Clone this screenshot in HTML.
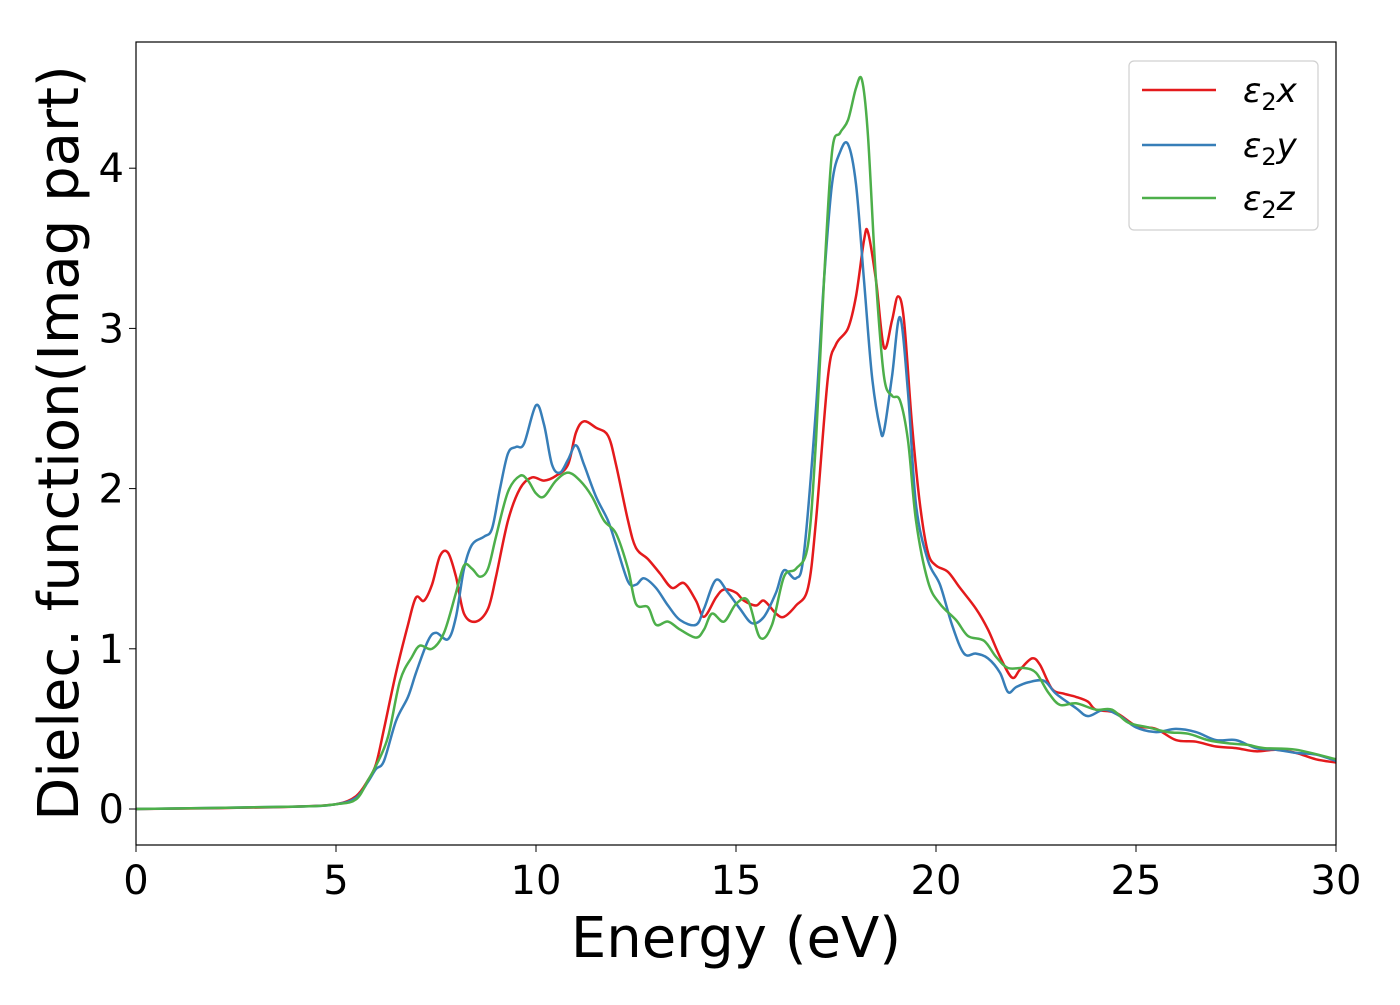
<!DOCTYPE html>
<html><head><meta charset="utf-8"><style>
body{margin:0;background:#fff;}
svg text{font-family:"DejaVu Sans","Liberation Sans",sans-serif;fill:#000;}
</style></head><body>
<svg id="chart" width="1400" height="1000" xmlns="http://www.w3.org/2000/svg">
<rect x="0" y="0" width="1400" height="1000" fill="#fff"/>
<g id="marks"></g>
<g id="axes"></g>
<rect x="136" y="42" width="1200" height="803" fill="none" stroke="#000" stroke-width="1.2"/>
<text x="736" y="957" font-size="56" text-anchor="middle">Energy (eV)</text>
<text transform="translate(78,443) rotate(-90)" font-size="56" text-anchor="middle">Dielec. function(Imag part)</text>
<g>
<rect x="1129" y="61" width="189" height="169" rx="5" fill="#fff" stroke="#ccc" stroke-width="1.2" opacity="0.9"/>
<line x1="1142" y1="90" x2="1216" y2="90" stroke="#e41a1c" stroke-width="2.5"/>
<text x="1243" y="102" font-size="34" font-style="italic">ε<tspan font-size="24" dy="8" font-style="normal">2</tspan><tspan dy="-8">x</tspan></text>
<line x1="1142" y1="145" x2="1216" y2="145" stroke="#377eb8" stroke-width="2.5"/>
<text x="1243" y="157" font-size="34" font-style="italic">ε<tspan font-size="24" dy="8" font-style="normal">2</tspan><tspan dy="-8">y</tspan></text>
<line x1="1142" y1="198" x2="1216" y2="198" stroke="#4daf4a" stroke-width="2.5"/>
<text x="1243" y="210" font-size="34" font-style="italic">ε<tspan font-size="24" dy="8" font-style="normal">2</tspan><tspan dy="-8">z</tspan></text>
</g>
</svg>
<script>
const xTicks=[0,5,10,15,20,25,30];
const yTicks=[0,1,2,3,4];
const exX=[0,2,4,5,5.5,5.8,6,6.2,6.5,6.8,7,7.2,7.4,7.6,7.8,8,8.2,8.5,8.8,9,9.3,9.6,9.9,10.2,10.5,10.8,11,11.2,11.5,11.8,12,12.3,12.5,12.8,13.1,13.4,13.7,14,14.2,14.5,14.7,15,15.2,15.5,15.7,16,16.2,16.5,16.8,17,17.3,17.5,17.8,18,18.2,18.3,18.5,18.7,18.9,19.05,19.2,19.4,19.6,19.8,20,20.3,20.6,21,21.3,21.6,21.9,22.1,22.4,22.6,22.9,23.2,23.5,23.8,24,24.5,25,25.5,26,26.5,27,27.5,28,28.5,29,29.5,30];
const exV=[0,0.005,0.015,0.03,0.08,0.18,0.28,0.5,0.85,1.15,1.32,1.3,1.4,1.58,1.6,1.45,1.22,1.17,1.25,1.45,1.8,2.0,2.07,2.05,2.08,2.15,2.35,2.42,2.38,2.33,2.15,1.8,1.63,1.56,1.47,1.38,1.41,1.3,1.2,1.32,1.37,1.35,1.3,1.27,1.3,1.22,1.2,1.27,1.38,1.8,2.7,2.9,3.0,3.2,3.55,3.6,3.3,2.88,3.05,3.2,3.05,2.4,1.9,1.6,1.52,1.48,1.38,1.25,1.12,0.95,0.82,0.87,0.94,0.9,0.75,0.72,0.7,0.67,0.62,0.6,0.52,0.5,0.43,0.42,0.39,0.38,0.36,0.37,0.35,0.31,0.29];
const eyX=[0,4,5,5.5,5.8,6,6.2,6.5,6.8,7,7.3,7.5,7.8,8,8.2,8.4,8.7,8.9,9.1,9.3,9.5,9.7,10,10.2,10.4,10.6,10.8,11,11.2,11.5,11.8,12,12.3,12.5,12.7,13,13.3,13.6,14,14.2,14.5,14.8,15.1,15.4,15.7,16,16.2,16.5,16.7,17,17.2,17.4,17.6,17.8,18,18.2,18.4,18.6,18.7,18.9,19.1,19.3,19.5,19.8,20.1,20.4,20.7,21,21.3,21.6,21.8,22,22.3,22.7,23,23.5,23.8,24.2,24.6,25,25.5,26,26.5,27,27.5,28,28.5,29,29.5,30];
const eyV=[0,0.015,0.03,0.07,0.17,0.25,0.3,0.55,0.7,0.85,1.05,1.1,1.06,1.2,1.5,1.65,1.7,1.75,2.0,2.22,2.26,2.28,2.52,2.4,2.15,2.1,2.18,2.27,2.15,1.95,1.8,1.65,1.42,1.4,1.44,1.38,1.27,1.18,1.15,1.25,1.43,1.35,1.25,1.16,1.2,1.35,1.49,1.44,1.6,2.5,3.3,3.9,4.1,4.15,3.9,3.3,2.7,2.38,2.36,2.7,3.07,2.6,1.9,1.55,1.4,1.15,0.97,0.97,0.94,0.85,0.73,0.76,0.79,0.8,0.72,0.63,0.58,0.62,0.58,0.51,0.48,0.5,0.48,0.43,0.43,0.38,0.37,0.35,0.34,0.3];
const ezX=[0,4,5,5.5,5.8,6,6.3,6.6,6.9,7.1,7.4,7.7,8,8.2,8.4,8.6,8.8,9,9.3,9.6,9.8,10,10.2,10.5,10.8,11.1,11.4,11.7,12,12.3,12.5,12.8,13,13.3,13.6,14,14.2,14.4,14.7,15,15.3,15.6,15.9,16.2,16.5,16.8,17,17.2,17.4,17.6,17.8,18,18.15,18.3,18.5,18.7,18.9,19.1,19.3,19.5,19.8,20.1,20.5,20.8,21.2,21.5,21.8,22.2,22.5,22.8,23.1,23.5,24,24.4,24.8,25.3,25.8,26.3,26.8,27.3,27.8,28.2,29,30];
const ezV=[0,0.015,0.03,0.06,0.18,0.27,0.45,0.8,0.95,1.02,1.0,1.1,1.35,1.52,1.5,1.45,1.5,1.7,1.98,2.08,2.05,1.97,1.95,2.05,2.1,2.05,1.95,1.8,1.72,1.5,1.28,1.26,1.15,1.17,1.12,1.07,1.12,1.22,1.17,1.28,1.3,1.07,1.15,1.45,1.5,1.65,2.3,3.3,4.1,4.22,4.3,4.5,4.55,4.2,3.3,2.7,2.58,2.55,2.3,1.8,1.42,1.28,1.18,1.08,1.05,0.95,0.88,0.88,0.85,0.73,0.65,0.66,0.62,0.62,0.54,0.51,0.48,0.47,0.43,0.41,0.4,0.38,0.37,0.31];
const NS='http://www.w3.org/2000/svg';
function sx(v){return 136+v*40;}
function sy(v){return 809-v*160.2;}
function pathFrom(xs,vs){
  const p=xs.map((x,i)=>[sx(x),sy(vs[i])]);
  let d='M'+p[0][0].toFixed(1)+','+p[0][1].toFixed(1);
  for(let i=0;i<p.length-1;i++){
    const p0=p[Math.max(0,i-1)],p1=p[i],p2=p[i+1],p3=p[Math.min(p.length-1,i+2)];
    const c1=[p1[0]+(p2[0]-p0[0])/6,p1[1]+(p2[1]-p0[1])/6];
    const c2=[p2[0]-(p3[0]-p1[0])/6,p2[1]-(p3[1]-p1[1])/6];
    d+=' C'+c1[0].toFixed(1)+','+c1[1].toFixed(1)+' '+c2[0].toFixed(1)+','+c2[1].toFixed(1)+' '+p2[0].toFixed(1)+','+p2[1].toFixed(1);
  }
  return d;
}
const marks=document.getElementById('marks');
function addLine(xs,vs,color,name){
  const el=document.createElementNS(NS,'path');
  el.setAttribute('d',pathFrom(xs,vs));
  el.setAttribute('fill','none');
  el.setAttribute('stroke',color);
  el.setAttribute('stroke-width','2.5');
  
  
  marks.appendChild(el);
}
addLine(exX,exV,'#e41a1c','series-eps2-x');
addLine(eyX,eyV,'#377eb8','series-eps2-y');
addLine(ezX,ezV,'#4daf4a','series-eps2-z');
const axes=document.getElementById('axes');
xTicks.forEach(t=>{
  const l=document.createElementNS(NS,'line');
  l.setAttribute('x1',sx(t));l.setAttribute('x2',sx(t));
  l.setAttribute('y1',845);l.setAttribute('y2',852);
  l.setAttribute('stroke','#000');
  
  
  axes.appendChild(l);
  const tx=document.createElementNS(NS,'text');
  tx.setAttribute('x',sx(t));tx.setAttribute('y',894);
  tx.setAttribute('font-size','40');tx.setAttribute('text-anchor','middle');
  
  
  tx.textContent=t;
  axes.appendChild(tx);
});
yTicks.forEach(t=>{
  const l=document.createElementNS(NS,'line');
  l.setAttribute('x1',129);l.setAttribute('x2',136);
  l.setAttribute('y1',sy(t));l.setAttribute('y2',sy(t));
  l.setAttribute('stroke','#000');
  
  
  axes.appendChild(l);
  const tx=document.createElementNS(NS,'text');
  tx.setAttribute('x',124);tx.setAttribute('y',sy(t)+14);
  tx.setAttribute('font-size','40');tx.setAttribute('text-anchor','end');
  
  
  tx.textContent=t;
  axes.appendChild(tx);
});
</script>
</body></html>
